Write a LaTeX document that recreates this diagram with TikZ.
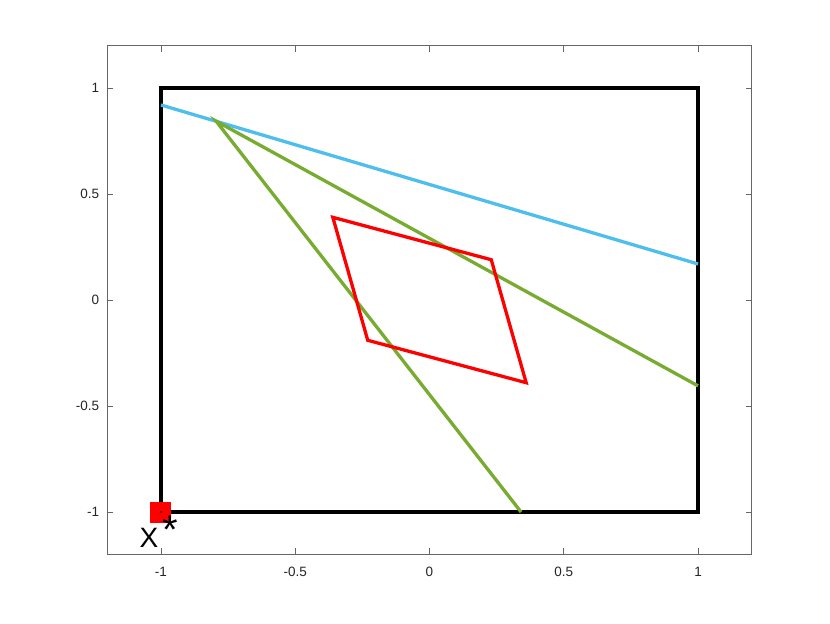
\documentclass[tikz,border=0pt]{standalone}
\usepackage{fontspec}
\setmainfont{Liberation Sans}
\begin{document}
\begin{tikzpicture}[x=268.5pt,y=212pt,
  axisline/.style={draw=black!60, line width=0.7pt},
  tick/.style={draw=black!60, line width=0.7pt},
  ticklabel/.style={font=\fontsize{13.5}{15}\selectfont, text=black!85, inner sep=0pt},
  boxline/.style={draw=black, line width=3.4pt, line join=miter},
  blueline/.style={line width=3.3pt, color={rgb,255:red,77;green,190;blue,238}},
  greenline/.style={line width=3.3pt, color={rgb,255:red,119;green,172;blue,48}},
  redline/.style={line width=3.3pt, color=red, line join=miter}]
\useasboundingbox (-1.5996,-1.5236) rectangle (1.4916,1.4151);
\fill[white] (-1.5996,-1.5236) rectangle (1.4916,1.4151);
% axes box
\draw[axisline] (-1.2,-1.2) rectangle (1.2,1.2);
\foreach \v/\l in {-1/-1,-0.5/-0.5,0/0,0.5/0.5,1/1}{
  \draw[tick] (\v,-1.2) -- ++(0,6pt);
  \draw[tick] (\v,1.2) -- ++(0,-6pt);
  \draw[tick] (-1.2,\v) -- ++(6pt,0);
  \draw[tick] (1.2,\v) -- ++(-6pt,0);
  \node[ticklabel, anchor=north] at (\v,-1.2-0.06) {\l};
  \node[ticklabel, anchor=east] at (-1.2-0.03,\v) {\l};
}
% feasible box
\coordinate (a) at (-1,-1);
\coordinate (b) at (1,-1);
\coordinate (c) at (1,1);
\coordinate (d) at (-1,1);
\draw[boxline] (a) -- (b) -- (c) -- (d) -- cycle;
% blue line
\coordinate (b1) at (-1,0.92);
\coordinate (b2) at (1,0.17);
\draw[blueline] (b1) -- (b2);
% green lines
\coordinate (g0) at (-0.795,0.844);
\coordinate (g1) at (1,-0.405);
\coordinate (g2) at (0.341,-1);
\draw[greenline] (g1) -- (g0) -- (g2);
% red rhombus
\coordinate (r1) at (-0.36,0.39);
\coordinate (r2) at (0.23,0.19);
\coordinate (r3) at (0.36,-0.39);
\coordinate (r4) at (-0.23,-0.19);
\draw[redline] (r1) -- (r2) -- (r3) -- (r4) -- cycle;
% optimum marker
\node[fill=red, minimum size=21pt, inner sep=0pt] (xs) at (a) {};
\fill[black] (a) circle (0.9pt);
\node[font=\fontsize{28}{30}\selectfont, anchor=base west, inner sep=0pt] (xl) at (-1.080,-1.1675) {X};
\node[font=\fontsize{40}{42}\selectfont, anchor=north west, inner sep=0pt] (xst) at (-0.9963,-1.0189) {*};
\end{tikzpicture}
\end{document}
